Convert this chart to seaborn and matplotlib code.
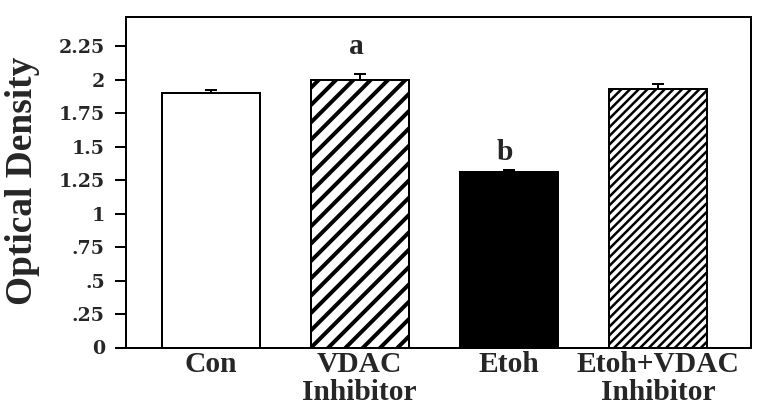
import numpy as np
import matplotlib
matplotlib.use("Agg")
import matplotlib.pyplot as plt
import seaborn as sns

# ---- data ----
categories = ["Con", "VDAC\nInhibitor", "Etoh", "Etoh+VDAC\nInhibitor"]
values = [1.90, 2.00, 1.31, 1.93]
errors = [0.025, 0.045, 0.015, 0.037]
bar_colors = ["white", "white", "black", "white"]
hatches = ["", "//", "", "////"]
hatch_widths_px = [4.0, 4.0, 2.5, 2.5]
ytick_values = [0, 0.25, 0.5, 0.75, 1, 1.25, 1.5, 1.75, 2, 2.25]
ytick_labels = ["0", ".25", ".5", ".75", "1", "1.25", "1.5", "1.75", "2", "2.25"]
annotations = [("a", 0.98, 2.19), ("b", 1.97, 1.405)]

DPI = 104
def pt(px):
    return px * 72.0 / DPI

sns.set_style("ticks")
plt.rcParams["font.family"] = ["Liberation Serif", "DejaVu Serif"]

fig = plt.figure(figsize=(766 / DPI, 410 / DPI), dpi=DPI)
ax = fig.add_axes([126 / 766, 62.5 / 410, 625 / 766, 330.5 / 410])

sns.barplot(x=categories, y=values, hue=categories, palette=bar_colors,
            legend=False, errorbar=None, width=0.657,
            edgecolor="black", linewidth=pt(2), ax=ax)

for patch, h, hw in zip(ax.patches, hatches, hatch_widths_px):
    if h:
        patch.set_hatch(h)
        if hasattr(patch, "set_hatch_linewidth"):
            patch.set_hatch_linewidth(pt(hw))
plt.rcParams["hatch.linewidth"] = pt(3.2)

xpos = np.arange(len(categories))
ax.errorbar(xpos, values, yerr=[np.zeros(len(values)), errors], fmt="none",
            ecolor="black", elinewidth=pt(2), capsize=pt(6), capthick=pt(2),
            zorder=1)

ax.set_xlim(-0.567, 3.624)
ax.set_ylim(0, 2.47)
ax.set_yticks(ytick_values)
ax.set_yticklabels(ytick_labels, fontfamily="DejaVu Serif", fontweight="bold",
                   fontsize=pt(19))
ax.set_xticks(xpos)
ax.set_xticklabels(categories, fontfamily="Liberation Serif", fontweight="bold",
                   fontsize=pt(29.5), linespacing=1.0)
ax.tick_params(axis="y", direction="out", length=pt(11), width=pt(2),
               pad=pt(10), color="black")
ax.tick_params(axis="x", length=0, pad=pt(4))

for s in ax.spines.values():
    s.set_visible(True)
    s.set_linewidth(pt(2))
    s.set_color("black")

ax.set_xlabel("")
ax.set_ylabel("Optical Density", fontfamily="Liberation Serif", fontweight="bold",
              fontsize=pt(37.4))
ax.yaxis.set_label_coords(-0.1376, 0.503)

for txt, x, y in annotations:
    ax.text(x, y, txt, ha="center", va="baseline", fontfamily="Liberation Serif",
            fontweight="bold", fontsize=pt(29.5))

fig.savefig("out.png", dpi=DPI, facecolor="white")
